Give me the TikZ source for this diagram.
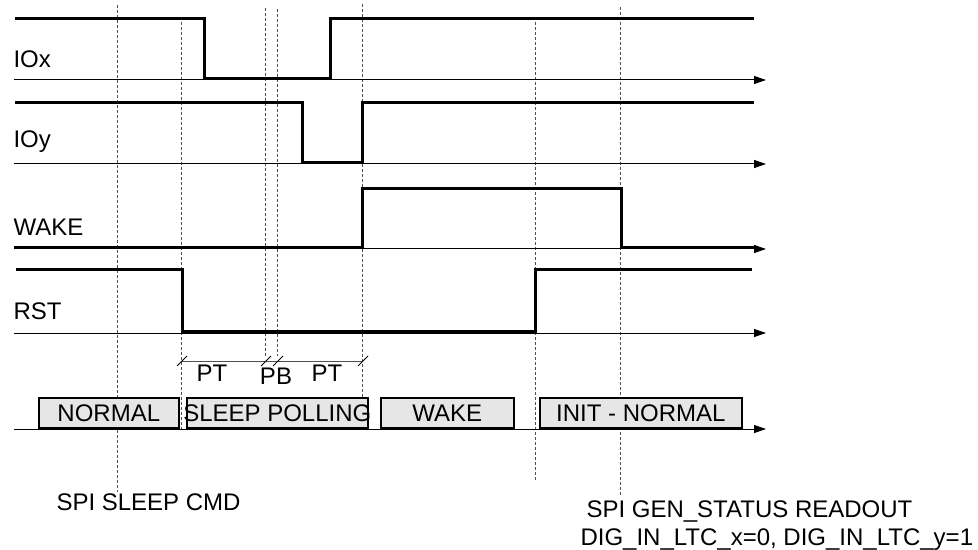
\documentclass[tikz,border=0pt]{standalone}
\usepackage{fontspec}
\setmainfont{Liberation Sans}
\usetikzlibrary{arrows.meta,calc}
\definecolor{ink}{RGB}{0,0,0}
\definecolor{soft}{RGB}{80,80,80}
\definecolor{faint}{RGB}{230,230,230}
\tikzset{
  every picture/.style={color=ink, line width=0.5pt, font=\fontsize{12}{14}\selectfont},
  axis/.style={-{Triangle[length=6pt,width=4pt]}, line width=0.5pt},
  level/.style={line width=1.5pt},
  marker/.style={dash pattern=on 1.5pt off 1pt, line width=0.4pt, color=soft},
  state/.style={draw=ink, line width=0.8pt, fill=faint, anchor=north west, inner sep=0pt, minimum height=15pt},
  sig/.style={anchor=base west, inner sep=0pt},
  span/.style={line width=0.5pt, color=soft},
  tick/.style={line width=0.5pt},
  lbl/.style={inner sep=0pt},
}

\begin{document}
\begin{tikzpicture}[x=0.5pt, y=-0.5pt]
  \useasboundingbox (0,0) rectangle (978,550);
  % time marks
  \foreach \t/\a/\b in {117/5/492,181/22/430,265/8/358,277/9/356,362/4/430,535/22/482,620/7/495} { \draw[marker] (\t,\a) -- (\t,\b); }
  % signals
  \node[sig] (IOx) at (13,68) {IOx};
  \draw[level] (15,19) -| (204,79) -| (330,19) -- (754,19);
  \node[sig] (IOy) at (13,148) {IOy};
  \draw[level] (15,103) -| (302,163) -| (362,103) -- (754,103);
  \node[sig] (WAKE) at (13,236) {WAKE};
  \draw[level] (14,248) -| (362,189) -| (621,248) -- (755,248);
  \node[sig] (RST) at (13,320) {RST};
  \draw[level] (16,270) -| (182,331) -| (535,270) -- (752,270);
  % axes
  \foreach \y in {80,164,249,333,429} { \draw[axis] (14,\y) -- (766,\y); }
  % polling times
  \coordinate (s0) at (181,361); \coordinate (s1) at (265,361);
  \coordinate (s2) at (277,361); \coordinate (s3) at (362,361);
  \draw[span] (s0) -- (s3);
  \foreach \c in {s0,s1,s2,s3} { \draw[tick] ($(\c)+(-4,5)$) -- ($(\c)+(6,-5)$); }
  \node[lbl] (pt1) at (212,373) {PT};
  \node[lbl] (pb) at (276,376) {PB};
  \node[lbl] (pt2) at (327,373) {PT};
  % states
  \node[state, minimum width=70pt] (normal) at (38,397) {NORMAL};
  \node[state, minimum width=90.5pt] (sleep) at (186,397) {\makebox[90.5pt]{SLEEP POLLING}};
  \node[state, minimum width=66.5pt] (wake) at (380,397) {WAKE};
  \node[state, minimum width=101pt] (init) at (539,397) {INIT - NORMAL};
  % spi commands
  \node[sig] (cmd) at (56,510) {SPI SLEEP CMD};
  \node[sig] (readout) at (586,517) {SPI GEN\_STATUS READOUT};
  \node[sig] (flags) at (580,545) {DIG\_IN\_LTC\_x=0, DIG\_IN\_LTC\_y=1};
\end{tikzpicture}
\end{document}
